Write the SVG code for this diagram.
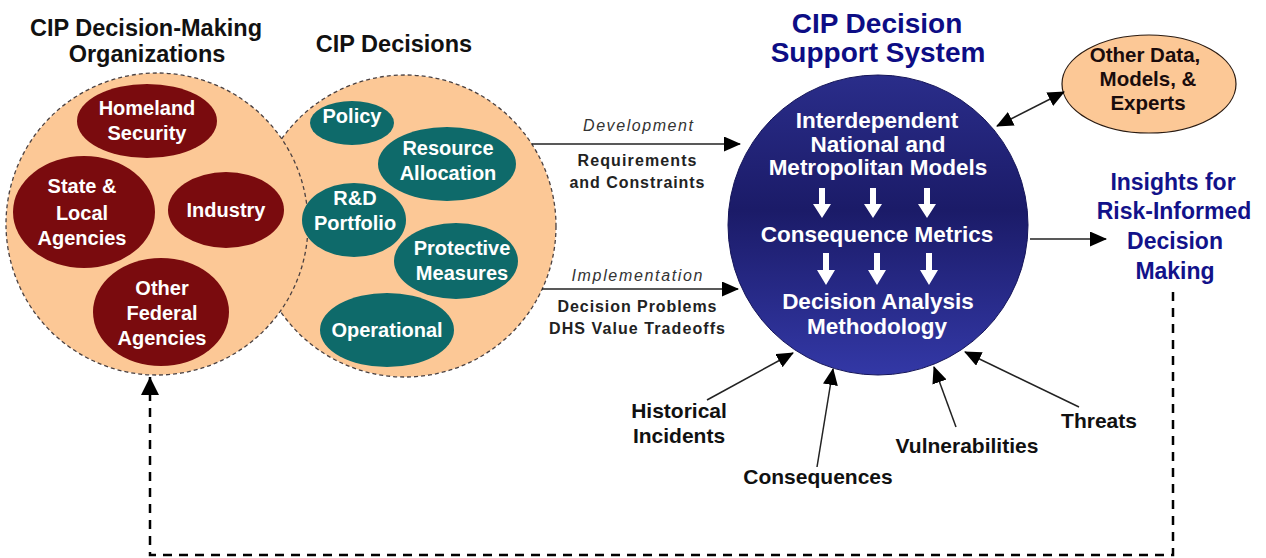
<svg xmlns="http://www.w3.org/2000/svg" width="1266" height="558" viewBox="0 0 1266 558">
<defs>
<style>
text{font-family:"Liberation Sans",Arial,sans-serif;text-anchor:middle}
.title{font-weight:bold;font-size:23.5px;fill:#111}
.bt{font-weight:bold;font-size:28px;fill:#0d0d85}
.ins{font-weight:bold;font-size:23px;fill:#12128a}
.wl{font-weight:bold;font-size:20px;fill:#fff}
.ct{font-weight:bold;font-size:22.5px;fill:#fff}
.lab{font-weight:bold;font-size:16px;fill:#222}
.it{font-style:italic;font-size:16px;fill:#333}
.bot{font-weight:bold;font-size:21px;fill:#111}
.od{font-weight:bold;font-size:20.5px;fill:#1a0c0c}
.peach{fill:#fcc896}
.dash{fill:none;stroke:#4a4040;stroke-width:1.3;stroke-dasharray:4 3}
.org{fill:#7a0b0e}
.dec{fill:#0e6a6a}
.ln{fill:none;stroke:#222;stroke-width:1.5;marker-end:url(#ah)}
.wa{fill:#fff}
</style>
<marker id="ah" markerUnits="userSpaceOnUse" markerWidth="18" markerHeight="16" refX="16" refY="7.5" orient="auto-start-reverse"><path d="M0,0 L17,7.5 L0,15 z" fill="#000"/></marker>
<marker id="ahd" markerUnits="userSpaceOnUse" markerWidth="20" markerHeight="20" refX="18" refY="9" orient="auto"><path d="M0,0 L18,9 L0,18 z" fill="#000"/></marker>
<linearGradient id="navy" x1="0" y1="0" x2="0" y2="1">
<stop offset="0" stop-color="#2a2d8a"/>
<stop offset="0.45" stop-color="#1b1b68"/>
<stop offset="1" stop-color="#3338a6"/>
</linearGradient>
</defs>
<rect width="1266" height="558" fill="#fff"/>

<g id="titles">
<text class="title" x="146" y="36">CIP Decision-Making</text>
<text class="title" x="147" y="62">Organizations</text>
<text class="title" x="394" y="52">CIP Decisions</text>
<text class="bt" x="877" y="33">CIP Decision</text>
<text class="bt" x="878" y="62">Support System</text>
</g>

<g id="decisions-group">
<circle class="peach" cx="405" cy="226" r="151"/>
<circle class="dash" cx="405" cy="226" r="151"/>
</g>
<g id="organizations-group">
<circle class="peach" cx="157" cy="224" r="151"/>
<circle class="dash" cx="157" cy="224" r="151"/>
</g>

<g id="homeland-security"><ellipse class="org" cx="147" cy="121" rx="70" ry="37"/><text class="wl" x="147" y="115">Homeland</text><text class="wl" x="147" y="140">Security</text></g>
<g id="state-local"><ellipse class="org" cx="84" cy="212" rx="71" ry="56"/><text class="wl" x="82" y="193">State &amp;</text><text class="wl" x="82" y="220">Local</text><text class="wl" x="82" y="245">Agencies</text></g>
<g id="industry"><ellipse class="org" cx="226" cy="210" rx="58" ry="38"/><text class="wl" x="226" y="217">Industry</text></g>
<g id="other-federal"><ellipse class="org" cx="161" cy="312" rx="68" ry="54"/><text class="wl" x="162" y="295">Other</text><text class="wl" x="162" y="320">Federal</text><text class="wl" x="162" y="345">Agencies</text></g>

<g id="policy"><ellipse class="dec" cx="352" cy="123" rx="42" ry="22"/><text class="wl" x="352" y="123">Policy</text></g>
<g id="resource-allocation"><ellipse class="dec" cx="447" cy="164" rx="69" ry="37"/><text class="wl" x="448" y="155">Resource</text><text class="wl" x="448" y="180">Allocation</text></g>
<g id="rd-portfolio"><ellipse class="dec" cx="354" cy="220" rx="52" ry="37"/><text class="wl" x="355" y="205">R&amp;D</text><text class="wl" x="355" y="230">Portfolio</text></g>
<g id="protective-measures"><ellipse class="dec" cx="456" cy="261" rx="62" ry="38"/><text class="wl" x="462" y="255">Protective</text><text class="wl" x="462" y="280">Measures</text></g>
<g id="operational"><ellipse class="dec" cx="387" cy="330" rx="67" ry="37"/><text class="wl" x="387" y="337">Operational</text></g>

<g id="support-system">
<circle cx="878" cy="225" r="150" fill="url(#navy)" stroke="#141458" stroke-width="1"/>
<text class="ct" x="877" y="128">Interdependent</text>
<text class="ct" x="878" y="152">National and</text>
<text class="ct" x="878" y="175">Metropolitan Models</text>
<text class="ct" x="877" y="242">Consequence Metrics</text>
<text class="ct" x="878" y="309">Decision Analysis</text>
<text class="ct" x="877" y="334">Methodology</text>
<path class="wa" d="M819,188 h6 v16 h6 l-9,14 l-9,-14 h6 z"/>
<path class="wa" d="M870,188 h6 v16 h6 l-9,14 l-9,-14 h6 z"/>
<path class="wa" d="M924,188 h6 v16 h6 l-9,14 l-9,-14 h6 z"/>
<path class="wa" d="M823,253 h6 v17 h6 l-9,15 l-9,-15 h6 z"/>
<path class="wa" d="M874,253 h6 v17 h6 l-9,15 l-9,-15 h6 z"/>
<path class="wa" d="M926,253 h6 v17 h6 l-9,15 l-9,-15 h6 z"/>
</g>

<g id="other-data">
<ellipse class="peach" cx="1149" cy="84" rx="87" ry="49" stroke="#2a1a10" stroke-width="1.2"/>
<text class="od" x="1145" y="62">Other Data,</text>
<text class="od" x="1148" y="86">Models, &amp;</text>
<text class="od" x="1148" y="110">Experts</text>
</g>

<g id="insights">
<text class="ins" x="1173" y="190">Insights for</text>
<text class="ins" x="1174" y="219">Risk-Informed</text>
<text class="ins" x="1175" y="249">Decision</text>
<text class="ins" x="1175" y="279">Making</text>
</g>

<g id="inputs">
<text class="bot" x="679" y="418">Historical</text>
<text class="bot" x="679" y="443">Incidents</text>
<text class="bot" x="818" y="484">Consequences</text>
<text class="bot" x="967" y="453">Vulnerabilities</text>
<text class="bot" x="1099" y="428">Threats</text>
</g>

<g id="connector-labels">
<text class="it" x="638" y="131" textLength="110" lengthAdjust="spacing">Development</text>
<text class="lab" x="637" y="166" textLength="119" lengthAdjust="spacing">Requirements</text>
<text class="lab" x="637" y="188" textLength="135" lengthAdjust="spacing">and Constraints</text>
<text class="it" x="637" y="281" textLength="131" lengthAdjust="spacing">Implementation</text>
<text class="lab" x="637" y="312" textLength="159" lengthAdjust="spacing">Decision Problems</text>
<text class="lab" x="637" y="334" textLength="176" lengthAdjust="spacing">DHS Value Tradeoffs</text>
</g>

<g id="connectors">
<line class="ln" x1="532" y1="144" x2="740" y2="144"/>
<line class="ln" x1="542" y1="289" x2="738" y2="289"/>
<line class="ln" x1="997" y1="126" x2="1064" y2="92" style="marker-start:url(#ah)"/>
<line class="ln" x1="1030" y1="239" x2="1106" y2="239"/>
<line class="ln" x1="707" y1="400" x2="793" y2="353"/>
<line class="ln" x1="817" y1="467" x2="833" y2="369"/>
<line class="ln" x1="956" y1="427" x2="934" y2="367"/>
<line class="ln" x1="1079" y1="407" x2="965" y2="352"/>
<polyline points="1173,292 1173,555 150,555 150,377" fill="none" stroke="#000" stroke-width="2.5" stroke-dasharray="9 7" marker-end="url(#ahd)"/>
</g>
</svg>
